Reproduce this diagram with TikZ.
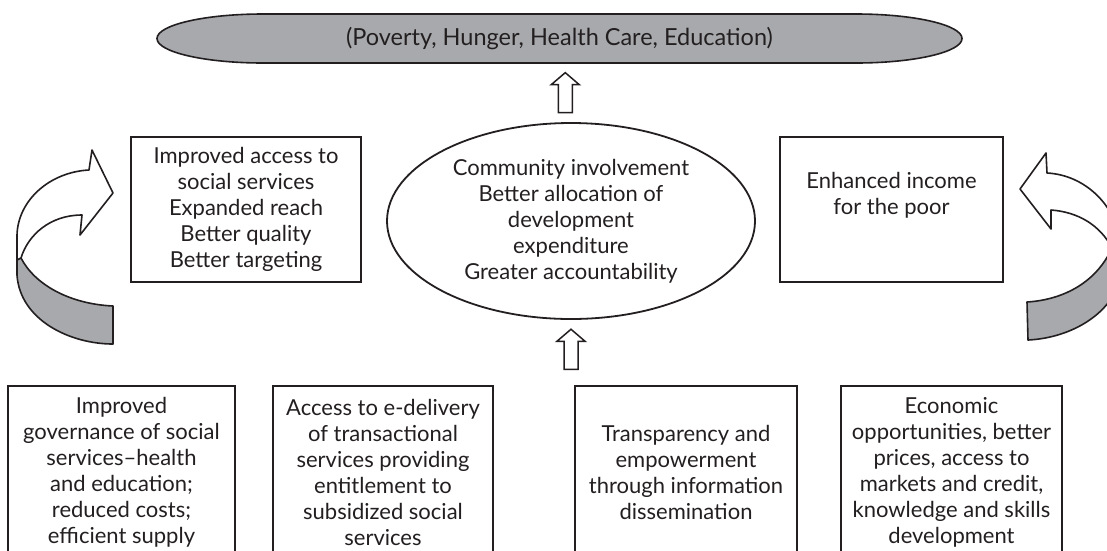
\documentclass[tikz,border=0pt]{standalone}
\usepackage{fontspec}
\setmainfont{Lato}
\usetikzlibrary{shapes.geometric,calc}

\definecolor{ink}{HTML}{231F20}
\definecolor{band}{HTML}{A7A9AC}

\tikzset{
  txt/.style = {text=ink, align=center, inner sep=0pt, font=\fontsize{22}{26}\selectfont},
  box/.style = {txt, draw=ink, line width=1.8pt},
  hub/.style = {txt, ellipse, draw=ink, line width=1.8pt, minimum width=368, minimum height=196},
  hollow/.style = {draw=ink, line width=1.5pt, fill=white, line join=miter},
  twist/.style = {draw=ink, line width=1.6pt, line join=round},
  uparrow/.pic = {\draw[hollow] (0,-20) -- (14,-8) -- (7,-8) -- (7,20) -- (-7,20) -- (-7,-8) -- (-14,-8) -- cycle;}
}

\begin{document}
\begin{tikzpicture}[x=1pt, y=-1pt]
  \useasboundingbox (0,0) rectangle (1107,550);

  % goal at the top
  \draw[draw=ink, line width=1.6pt, fill=band]
    (263,14) -- (856,14) .. controls (914.5,14) and (962,25) .. (962,38.5)
    .. controls (962,52) and (914.5,63) .. (856,63) -- (263,63)
    .. controls (204.5,63) and (157,52) .. (157,38.5)
    .. controls (157,25) and (204.5,14) .. (263,14) -- cycle;
  \node[txt, font=\fontsize{23.5}{26}\selectfont, minimum width=805, minimum height=49] (goal) at (559.5,38.5) {(Poverty, Hunger, Health Care, Education)};

  % middle row
  \node[hub] (mid) at (571,221) {Community involvement\\Better allocation of\\development\\expenditure\\Greater accountability};
  \node[box, minimum width=230, minimum height=145] (access) at (246,209.5) {Improved access to\\social services\\Expanded reach\\Better quality\\Better targeting};
  \node[box, minimum width=223, minimum height=145] (income) at (891.5,209.5) {\strut\\Enhanced income\\for the poor\\\strut\\\strut};

  % bottom row (runs off the page)
  \node[box, minimum width=227, minimum height=172] (gov) at (121.5,472) {Improved\\governance of social\\services–health\\and education;\\reduced costs;\\efficient supply};
  \node[box, minimum width=220, minimum height=172] (edel) at (383,472) {Access to e-delivery\\of transactional\\services providing\\entitlement to\\subsidized social\\services};
  \node[box, minimum width=222, minimum height=172] (trans) at (686,472) {Transparency and\\empowerment\\through information\\dissemination};
  \node[box, minimum width=221, minimum height=172] (econ) at (951.5,472) {Economic\\opportunities, better\\prices, access to\\markets and credit,\\knowledge and skills\\development};

  % block arrows
  \pic at ($(goal.south)!.5!(mid.north)$) {uparrow};
  \pic at ($(mid.south)!.45!(mid.south |- trans.north)$) {uparrow};

  % left turning arrow
  \draw[twist, fill=band] (21,258) .. controls (35,285) and (70,304) .. (113,306)
    -- (113,344) .. controls (70,344) and (20,320) .. (17,275) -- (17,258) -- cycle;
  \draw[twist, fill=white] (17,260) -- (17,235) .. controls (18,200) and (50,172) .. (89,170)
    -- (92,150) -- (113,193) -- (80,235) -- (82,215)
    .. controls (50,215) and (28,235) .. (21,258) -- cycle;

  % right turning arrow
  \draw[twist, fill=band] (1112,248) .. controls (1095,285) and (1060,300) .. (1027,302)
    -- (1028,340) .. controls (1070,338) and (1110,315) .. (1120,280) -- (1120,248) -- cycle;
  \draw[twist, fill=white] (1112,248) .. controls (1100,225) and (1078,212) .. (1051,210)
    -- (1051,229) -- (1020,189) -- (1046,153) -- (1047,173)
    .. controls (1085,175) and (1115,205) .. (1120,240) -- (1120,248) -- cycle;
\end{tikzpicture}
\end{document}
